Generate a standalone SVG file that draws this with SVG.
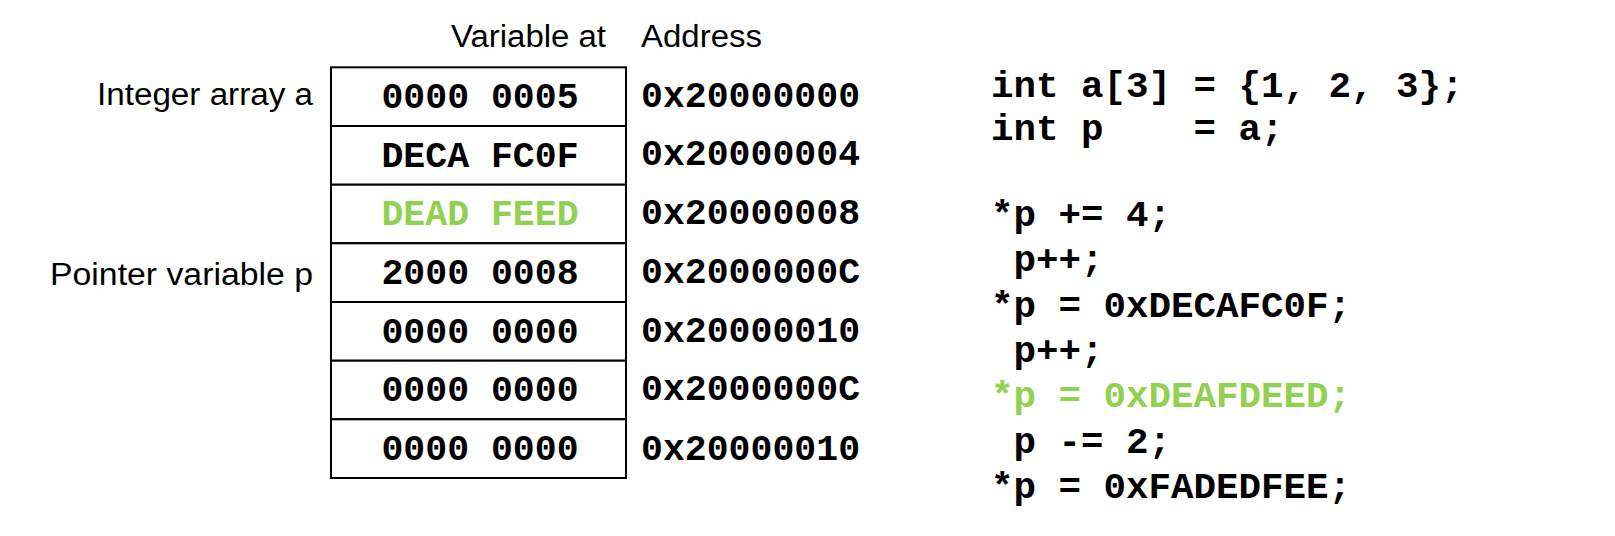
<svg xmlns="http://www.w3.org/2000/svg" width="1615" height="536" viewBox="0 0 1615 536">
<style>
.lbl{font-family:"Liberation Sans",Arial,sans-serif;font-size:31px;fill:#000}
.mono{font-family:"Liberation Mono","Courier New",monospace;font-weight:bold;font-size:36.5px;fill:#000}
.code{font-family:"Liberation Mono","Courier New",monospace;font-weight:bold;font-size:37.5px;fill:#000}
.green{fill:#92D050}
.cell{fill:#fff;stroke:#000;stroke-width:2}
</style>
<rect width="1615" height="536" fill="#fff"/>
<g id="headers">
<text class="lbl" x="451" y="46.5" textLength="155" lengthAdjust="spacingAndGlyphs">Variable at</text>
<text class="lbl" x="641" y="46.5" textLength="121" lengthAdjust="spacingAndGlyphs">Address</text>
</g>
<g id="labels">
<text class="lbl" x="97" y="105" textLength="216" lengthAdjust="spacingAndGlyphs">Integer array a</text>
<text class="lbl" x="50" y="285" textLength="263" lengthAdjust="spacingAndGlyphs">Pointer variable p</text>
</g>
<g id="memory">
<g id="row0"><rect class="cell" x="331" y="67.3" width="295" height="58.7"/><text class="mono" x="480" y="108.3" text-anchor="middle" xml:space="preserve">0000 0005</text><text class="mono" x="641" y="106.7">0x20000000</text></g>
<g id="row1"><rect class="cell" x="331" y="126" width="295" height="58.7"/><text class="mono" x="480" y="166.5" text-anchor="middle" xml:space="preserve">DECA FC0F</text><text class="mono" x="641" y="165.4">0x20000004</text></g>
<g id="row2"><rect class="cell" x="331" y="184.7" width="295" height="58.6"/><text class="mono green" x="480" y="225.3" text-anchor="middle" xml:space="preserve">DEAD FEED</text><text class="mono" x="641" y="224.2">0x20000008</text></g>
<g id="row3"><rect class="cell" x="331" y="243.3" width="295" height="58.7"/><text class="mono" x="480" y="284" text-anchor="middle" xml:space="preserve">2000 0008</text><text class="mono" x="641" y="283">0x2000000C</text></g>
<g id="row4"><rect class="cell" x="331" y="302" width="295" height="58.7"/><text class="mono" x="480" y="342.7" text-anchor="middle" xml:space="preserve">0000 0000</text><text class="mono" x="641" y="341.8">0x20000010</text></g>
<g id="row5"><rect class="cell" x="331" y="360.7" width="295" height="58.6"/><text class="mono" x="480" y="401.3" text-anchor="middle" xml:space="preserve">0000 0000</text><text class="mono" x="641" y="400">0x2000000C</text></g>
<g id="row6"><rect class="cell" x="331" y="419.3" width="295" height="58.7"/><text class="mono" x="480" y="460" text-anchor="middle" xml:space="preserve">0000 0000</text><text class="mono" x="641" y="459.8">0x20000010</text></g>
</g>
<g id="code">
<text class="code" x="991" y="96.5" xml:space="preserve">int a[3] = {1, 2, 3};</text>
<text class="code" x="991" y="140" xml:space="preserve">int p    = a;</text>
<text class="code" x="991" y="226" xml:space="preserve">*p += 4;</text>
<text class="code" x="991" y="271.3" xml:space="preserve"> p++;</text>
<text class="code" x="991" y="316.6" xml:space="preserve">*p = 0xDECAFC0F;</text>
<text class="code" x="991" y="361.9" xml:space="preserve"> p++;</text>
<text class="code green" x="991" y="407.2" xml:space="preserve">*p = 0xDEAFDEED;</text>
<text class="code" x="991" y="452.5" xml:space="preserve"> p -= 2;</text>
<text class="code" x="991" y="497.8" xml:space="preserve">*p = 0xFADEDFEE;</text>
</g>
</svg>
